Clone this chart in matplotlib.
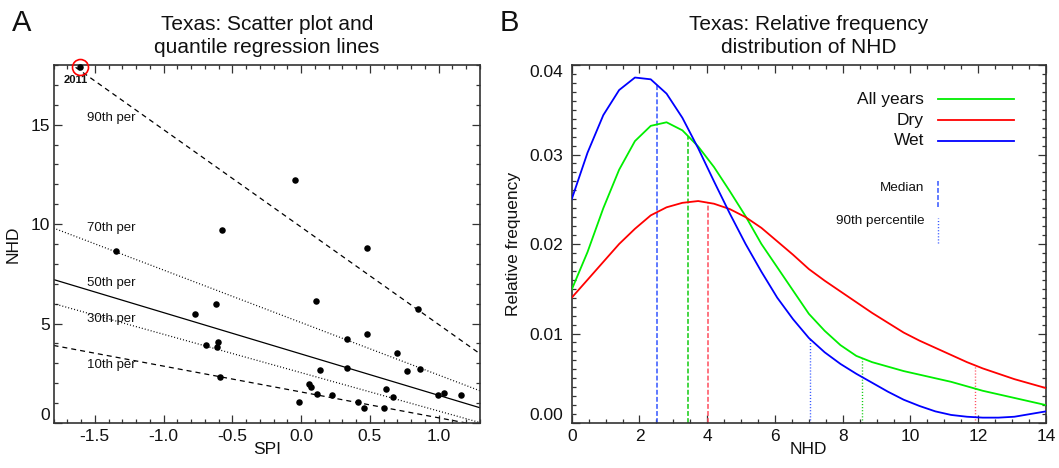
import numpy as np
import matplotlib
matplotlib.use('Agg')
import matplotlib.pyplot as plt
from matplotlib.ticker import MultipleLocator
from matplotlib.lines import Line2D

plt.rcParams['font.family'] = ['Liberation Sans', 'DejaVu Sans']
plt.rcParams['lines.scale_dashes'] = False

# ---------------- Panel A data: SPI vs NHD ----------------
spi = [-1.348, -0.575, -0.046, 0.476, -0.768, -0.616, 0.111, 0.85, 0.331, 0.476,
       -0.69, -0.606, -0.614, 0.696, 0.331, 0.135, 0.773, 0.867, -0.587, 0.06,
       0.07, 0.618, 0.118, 0.222, 0.667, 0.995, 1.04, 1.16, -0.012, 0.415,
       0.46, 0.60]
nhd = [8.66, 9.68, 12.2, 8.82, 5.47, 5.98, 6.11, 5.71, 4.24, 4.48,
       3.92, 4.09, 3.84, 3.54, 2.78, 2.68, 2.61, 2.72, 2.32, 1.95,
       1.80, 1.70, 1.46, 1.40, 1.30, 1.40, 1.50, 1.41, 1.06, 1.06,
       0.77, 0.74]
highlight_year = '2011'
highlight_spi = -1.61
highlight_nhd = 17.88

quantile_labels = ['10th per', '30th per', '50th per', '70th per', '90th per']
q_intercepts = [1.56, 2.53, 3.47, 5.05, 9.85]
q_slopes = [-1.30, -1.93, -2.08, -2.64, -4.90]
q_label_y = [2.93, 5.24, 7.05, 9.78, 15.36]

# ---------------- Panel B data: relative frequency of NHD ----------------
nhd_grid = [0.0, 0.467, 0.933, 1.4, 1.867, 2.333, 2.8, 3.267, 3.733, 4.2,
            4.667, 5.133, 5.6, 6.067, 6.533, 7.0, 7.467, 7.933, 8.4, 8.867,
            9.333, 9.8, 10.267, 10.733, 11.2, 11.667, 12.133, 12.6, 13.067,
            13.533, 14.0]
freq_all = [0.0149, 0.0191, 0.0240, 0.0283, 0.0315, 0.0332, 0.0336, 0.0327,
            0.0309, 0.0286, 0.0259, 0.0231, 0.0200, 0.0174, 0.0148, 0.0122,
            0.0103, 0.0087, 0.0075, 0.0068, 0.0063, 0.0058, 0.0054, 0.0050,
            0.0046, 0.0041, 0.0036, 0.0032, 0.0028, 0.0024, 0.0020]
freq_dry = [0.0140, 0.0160, 0.0180, 0.0200, 0.0217, 0.0232, 0.0241, 0.0246,
            0.0248, 0.0245, 0.0239, 0.0230, 0.0218, 0.0203, 0.0188, 0.0172,
            0.0159, 0.0147, 0.0135, 0.0123, 0.0112, 0.0101, 0.0092, 0.0084,
            0.0076, 0.0068, 0.0061, 0.0055, 0.0049, 0.0044, 0.0039]
freq_wet = [0.0250, 0.0302, 0.0344, 0.0372, 0.0386, 0.0384, 0.0368, 0.0341,
            0.0307, 0.0270, 0.0234, 0.0200, 0.0169, 0.0140, 0.0116, 0.0095,
            0.0079, 0.0066, 0.0055, 0.0045, 0.0035, 0.0026, 0.0019, 0.0013,
            0.0009, 0.0007, 0.0006, 0.0006, 0.0007, 0.0010, 0.0013]
series_names = ['All years', 'Dry', 'Wet']
series_colors = ['#00ee00', '#ff0000', '#0000ff']
marker_colors = ['#11cc11', '#ff4d5e', '#3355ff']
medians = [3.42, 4.01, 2.51]
pct90 = [8.57, 11.91, 7.03]

W, H = 1059, 468
fig = plt.figure(figsize=(W / 100, H / 100), dpi=100)
axA = fig.add_axes([53.5 / W, 45 / H, 426.5 / W, 358 / H])
axB = fig.add_axes([571.7 / W, 45 / H, 474.3 / W, 358 / H])

TXT = '#111111'
for ax in (axA, axB):
    for s in ax.spines.values():
        s.set_linewidth(1.2)
        s.set_color('#333333')
    ax.tick_params(which='both', direction='in', top=True, right=True,
                   width=0.9, colors='#333333', labelcolor=TXT, labelsize=12.5)
    ax.tick_params(which='major', length=5.5)
    ax.tick_params(which='minor', length=3)

# ---------------- Panel A ----------------
axA.set_xlim(-1.8, 1.3)
axA.set_ylim(0, 18)
axA.xaxis.set_major_locator(MultipleLocator(0.5))
axA.xaxis.set_minor_locator(MultipleLocator(0.1))
axA.set_yticks([0, 5, 10, 15])
axA.yaxis.set_minor_locator(MultipleLocator(1))
axA.set_xticks([-1.5, -1.0, -0.5, 0.0, 0.5, 1.0])
axA.set_xticklabels(['-1.5', '-1.0', '-0.5', '0.0', '0.5', '1.0'])
axA.tick_params(axis='y', pad=2.5)
axA.tick_params(axis='x', pad=4)

styles = [(0, (3.6, 2.9)), (0, (0.7, 1.5)), '-', (0, (0.7, 1.5)), (0, (3.6, 2.9))]
xs = np.array(axA.get_xlim())
for b, m, ls, lab, ly in zip(q_intercepts, q_slopes, styles, quantile_labels, q_label_y):
    axA.plot(xs, b + m * xs, color='black', lw=0.9, linestyle=ls)
    axA.text(-1.555, ly, lab, fontsize=9.5, color=TXT, ha='left', va='center')

axA.scatter(spi, nhd, s=22, color='black', zorder=3, linewidths=0)
axA.scatter([highlight_spi], [highlight_nhd], s=22, color='black', zorder=3,
            linewidths=0, clip_on=False)
axA.plot([highlight_spi], [highlight_nhd], marker='o', ms=11.5, mfc='none',
         mec='#ff0000', mew=1.2, clip_on=False, zorder=4)
axA.annotate(highlight_year, (highlight_spi, highlight_nhd), xytext=(-3, -9.2),
             textcoords='offset points', ha='center', va='center',
             fontsize=8, fontweight='bold', color=TXT)

axA.set_title('Texas: Scatter plot and\nquantile regression lines',
              fontsize=15, pad=9, linespacing=1.25, color=TXT)
axA.set_xlabel('SPI', fontsize=12.5, color=TXT, va='center')
axA.xaxis.set_label_coords(0.5, (423 - 450) / 358)
axA.set_ylabel('NHD', fontsize=12.5, color=TXT, va='center', ha='center')
axA.yaxis.set_label_coords((13.5 - 53.5) / 426.5, 0.5)

# ---------------- Panel B ----------------
axB.set_xlim(0, 14)
axB.set_ylim(0, 0.04)
axB.xaxis.set_major_locator(MultipleLocator(2))
axB.xaxis.set_minor_locator(MultipleLocator(0.5))
axB.set_yticks([0.0, 0.01, 0.02, 0.03, 0.04])
axB.set_yticklabels(['0.00', '0.01', '0.02', '0.03', '0.04'])
axB.yaxis.set_minor_locator(MultipleLocator(0.001))
axB.tick_params(axis='y', pad=6)
axB.tick_params(axis='x', pad=4)

for f, c in zip([freq_all, freq_dry, freq_wet], series_colors):
    axB.plot(nhd_grid, f, color=c, lw=1.3, zorder=3)
for f, c, md, p9 in zip([freq_all, freq_dry, freq_wet], marker_colors, medians, pct90):
    axB.plot([md, md], [0, np.interp(md, nhd_grid, f)], color=c, lw=1.1,
             linestyle=(0, (3.5, 1.6)), zorder=2)
    axB.plot([p9, p9], [0, np.interp(p9, nhd_grid, f)], color=c, lw=1.0,
             linestyle=(0, (0.8, 1.4)), zorder=2)

# legend drawn in axes coordinates
leg_y = [0.904, 0.846, 0.788]
for name, c, yy in zip(series_names, series_colors, leg_y):
    axB.text(0.743, yy, name, transform=axB.transAxes, ha='right', va='center',
             fontsize=12.5, color=TXT)
    axB.add_line(Line2D([0.772, 0.933], [yy, yy], transform=axB.transAxes,
                        color=c, lw=1.3))
axB.text(0.743, 0.657, 'Median', transform=axB.transAxes, ha='right',
         va='center', fontsize=9.7, color=TXT)
axB.add_line(Line2D([0.773, 0.773], [0.604, 0.676], transform=axB.transAxes,
                    color='#3355ff', lw=1.1, linestyle=(0, (3.5, 1.6))))
axB.text(0.743, 0.564, '90th percentile', transform=axB.transAxes, ha='right',
         va='center', fontsize=9.7, color=TXT)
axB.add_line(Line2D([0.773, 0.773], [0.503, 0.573], transform=axB.transAxes,
                    color='#3355ff', lw=1.0, linestyle=(0, (0.8, 1.4))))

axB.set_title('Texas: Relative frequency\ndistribution of NHD',
              fontsize=15, pad=9, linespacing=1.25, color=TXT)
axB.set_xlabel('NHD', fontsize=12.5, color=TXT, va='center')
axB.xaxis.set_label_coords(0.5, (423 - 450) / 358)
axB.set_ylabel('Relative frequency', fontsize=12.5, color=TXT, va='center',
               ha='center')
axB.yaxis.set_label_coords((513.5 - 571.7) / 474.3, 0.5)

# edge tick labels shifted inward as in the original
ytA = axA.yaxis.get_major_ticks()
ytA[0].label1.set_va('bottom')
ytB = axB.yaxis.get_major_ticks()
ytB[0].label1.set_va('bottom')
ytB[-1].label1.set_va('top')

fig.text(12 / W, 1 - 23 / H, 'A', fontsize=21, ha='left', va='center', color=TXT)
fig.text(500 / W, 1 - 23 / H, 'B', fontsize=21, ha='left', va='center', color=TXT)

fig.savefig('out.png', dpi=100)
